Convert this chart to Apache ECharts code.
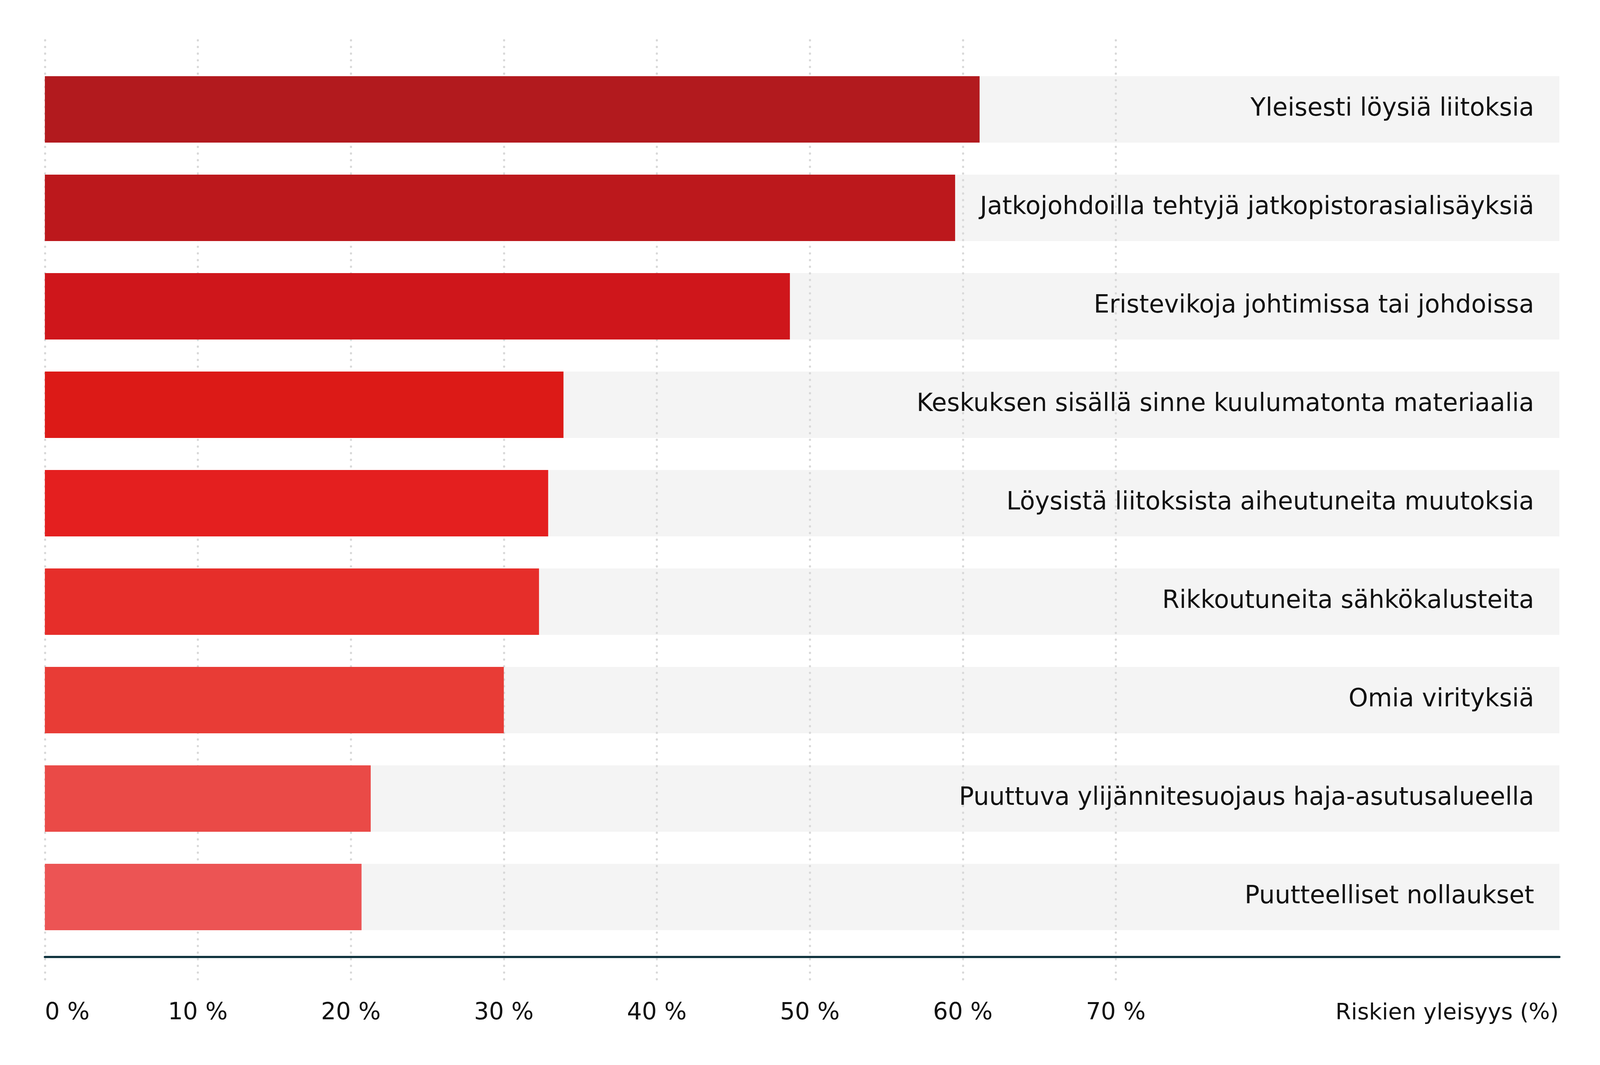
<!DOCTYPE html>
<html>
<head>
<meta charset="utf-8">
<script src="https://cdn.jsdelivr.net/npm/echarts@6/dist/echarts.min.js"></script>
<style>
html,body{margin:0;padding:0;background:#fff;overflow:hidden;}
#chart{width:100vw;height:100vh;}
</style>
</head>
<body>
<div id="chart"></div>
<script>
const categories = [
  'Yleisesti löysiä liitoksia',
  'Jatkojohdoilla tehtyjä jatkopistorasialisäyksiä',
  'Eristevikoja johtimissa tai johdoissa',
  'Keskuksen sisällä sinne kuulumatonta materiaalia',
  'Löysistä liitoksista aiheutuneita muutoksia',
  'Rikkoutuneita sähkökalusteita',
  'Omia virityksiä',
  'Puuttuva ylijännitesuojaus haja-asutusalueella',
  'Puutteelliset nollaukset'
];
const values = [61.1, 59.5, 48.7, 33.9, 32.9, 32.3, 30.0, 21.3, 20.7];
const barColors = ['#b21a1e','#bc181c','#cf161b','#dc1a17','#e41f1f','#e62e2a','#e83c36','#ea4a47','#ec5454'];
const axisName = 'Riskien yleisyys (%)';
const tickMax = 70;
const axisMax = 99;

// layout is designed for 4494 x 2726 and scaled to the actual viewport
const W = window.innerWidth, H = window.innerHeight;
const sx = W / 4494, sy = H / 2726, sf = Math.min(sx, sy);
const FONT = '"DejaVu Sans", "Noto Sans", sans-serif';
const FS = 66 * sx;
const FS_CAT = 69.5 * sx;
const FS_NAME = 63 * sx;
const chart = echarts.init(document.getElementById('chart'), null, {renderer:'canvas'});
chart.setOption({
  animation:false,
  backgroundColor:'#ffffff',
  grid:[
    {left:126*sx, top:154*sy, width:4254*sx, height:2268*sy},
    {left:126*sx, top:103*sy, width:3008*sx, bottom:213*sy}
  ],
  xAxis:[
    {gridIndex:0, type:'value', min:0, max:axisMax, position:'bottom', offset:27*sy,
     axisLine:{show:true, lineStyle:{color:'#0b2f3a', width:6*sf}},
     axisTick:{show:false}, axisLabel:{show:false}, splitLine:{show:false}, z:5},
    {gridIndex:1, type:'value', min:0, max:tickMax, interval:10, z:1,
     axisLine:{show:false}, axisTick:{show:false},
     splitLine:{show:true, lineStyle:{color:'#d8d8d8', width:6*sf, type:[0.5*sf,18.2*sf], cap:'round'}},
     axisLabel:{formatter:'{value} %', fontFamily:FONT, fontSize:FS, color:'#111111', margin:50*sy, alignMinLabel:'left'}}
  ],
  yAxis:[
    {gridIndex:0, type:'category', data:categories, inverse:true, position:'right',
     axisLine:{show:false}, axisTick:{show:false}, splitLine:{show:false},
     axisLabel:{inside:true, margin:71*sx, fontFamily:FONT, fontSize:FS_CAT, color:'#111111'}, z:6},
    {gridIndex:1, type:'value', show:false}
  ],
  graphic:[
    {type:'text', right:116*sx, top:2566*sy, style:{text:axisName, fontFamily:FONT, fontSize:FS_NAME, fill:'#111111', textAlign:'right'}}
  ],
  series:[
    {type:'bar', xAxisIndex:0, yAxisIndex:0, data:values, barWidth:170*sy, z:0, silent:true,
     itemStyle:{opacity:0}, showBackground:true, backgroundStyle:{color:'#f4f4f4'}},
    {type:'bar', xAxisIndex:0, yAxisIndex:0, barWidth:170*sy, barGap:'-100%', z:3,
     data:values.map((v,i)=>({value:v, itemStyle:{color:barColors[i]}}))}
  ]
});
</script>
</body>
</html>
